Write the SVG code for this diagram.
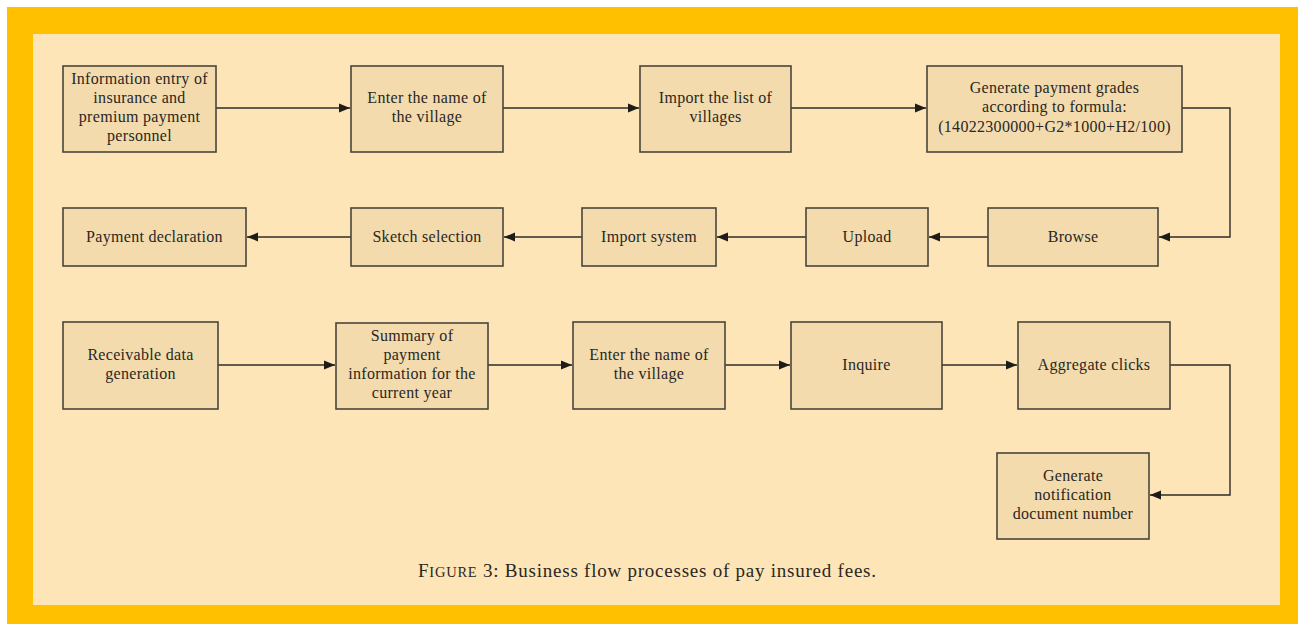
<svg xmlns="http://www.w3.org/2000/svg" width="1304" height="629" viewBox="0 0 1304 629">
<defs>
<style>
.box{fill:#F3DBAE;stroke:#4a463c;stroke-width:1.6}
.t{font-family:"Liberation Serif","DejaVu Serif",serif;font-size:16px;letter-spacing:0.3px;fill:#2a2722;text-anchor:middle}
.c{fill:none;stroke:#2e2b26;stroke-width:1.4}
.cap{font-family:"Liberation Serif","DejaVu Serif",serif;font-size:19px;fill:#2a2722}
</style>
<marker id="ah" viewBox="0 0 10 10" refX="10" refY="5" markerWidth="11" markerHeight="11" markerUnits="userSpaceOnUse" orient="auto">
<path d="M0,1 L10,5 L0,9 z" fill="#1e1c18"/>
</marker>
</defs>
<rect x="0" y="0" width="1304" height="629" fill="#ffffff"/>
<rect x="7" y="7" width="1291" height="617" fill="#FFC000"/>
<rect x="33" y="34" width="1247" height="571" fill="#FDE5B8"/>

<g id="connectors">
<path class="c" d="M216,108 H350" marker-end="url(#ah)"/>
<path class="c" d="M503,108 H639" marker-end="url(#ah)"/>
<path class="c" d="M791,108 H926" marker-end="url(#ah)"/>
<path class="c" d="M1182,108 H1230 V237 H1159" marker-end="url(#ah)"/>
<path class="c" d="M988,237 H929" marker-end="url(#ah)"/>
<path class="c" d="M806,237 H717" marker-end="url(#ah)"/>
<path class="c" d="M582,237 H504" marker-end="url(#ah)"/>
<path class="c" d="M351,237 H247" marker-end="url(#ah)"/>
<path class="c" d="M218,365 H335" marker-end="url(#ah)"/>
<path class="c" d="M488,365 H572" marker-end="url(#ah)"/>
<path class="c" d="M725,365 H790" marker-end="url(#ah)"/>
<path class="c" d="M942,365 H1017" marker-end="url(#ah)"/>
<path class="c" d="M1170,365 H1230 V495 H1150" marker-end="url(#ah)"/>
</g>

<g id="n1"><rect class="box" x="63" y="66" width="153" height="86"/>
<text class="t" x="139.5" y="84">Information entry of</text>
<text class="t" x="139.5" y="103">insurance and</text>
<text class="t" x="139.5" y="122">premium payment</text>
<text class="t" x="139.5" y="141">personnel</text></g>
<g id="n2"><rect class="box" x="351" y="66" width="152" height="86"/>
<text class="t" x="427" y="103">Enter the name of</text>
<text class="t" x="427" y="122">the village</text></g>
<g id="n3"><rect class="box" x="640" y="66" width="151" height="86"/>
<text class="t" x="715.5" y="103">Import the list of</text>
<text class="t" x="715.5" y="122">villages</text></g>
<g id="n4"><rect class="box" x="927" y="66" width="255" height="86"/>
<text class="t" x="1054.5" y="93">Generate payment grades</text>
<text class="t" x="1054.5" y="112">according to formula:</text>
<text class="t" x="1054.5" y="132">(14022300000+G2*1000+H2/100)</text></g>

<g id="n5"><rect class="box" x="988" y="208" width="170" height="58"/>
<text class="t" x="1073" y="242">Browse</text></g>
<g id="n6"><rect class="box" x="806" y="208" width="122" height="58"/>
<text class="t" x="867" y="242">Upload</text></g>
<g id="n7"><rect class="box" x="582" y="208" width="134" height="58"/>
<text class="t" x="649" y="242">Import system</text></g>
<g id="n8"><rect class="box" x="351" y="208" width="152" height="58"/>
<text class="t" x="427" y="242">Sketch selection</text></g>
<g id="n9"><rect class="box" x="63" y="208" width="183" height="58"/>
<text class="t" x="154.5" y="242">Payment declaration</text></g>

<g id="n10"><rect class="box" x="63" y="322" width="155" height="87"/>
<text class="t" x="140.5" y="360">Receivable data</text>
<text class="t" x="140.5" y="379">generation</text></g>
<g id="n11"><rect class="box" x="336" y="323" width="152" height="86"/>
<text class="t" x="412" y="341">Summary of</text>
<text class="t" x="412" y="360">payment</text>
<text class="t" x="412" y="379">information for the</text>
<text class="t" x="412" y="398">current year</text></g>
<g id="n12"><rect class="box" x="573" y="322" width="152" height="87"/>
<text class="t" x="649" y="360">Enter the name of</text>
<text class="t" x="649" y="379">the village</text></g>
<g id="n13"><rect class="box" x="791" y="322" width="151" height="87"/>
<text class="t" x="866.5" y="370">Inquire</text></g>
<g id="n14"><rect class="box" x="1018" y="322" width="152" height="87"/>
<text class="t" x="1094" y="370">Aggregate clicks</text></g>
<g id="n15"><rect class="box" x="997" y="453" width="152" height="86"/>
<text class="t" x="1073" y="481">Generate</text>
<text class="t" x="1073" y="500">notification</text>
<text class="t" x="1073" y="519">document number</text></g>

<text class="cap" x="418" y="577" textLength="458" lengthAdjust="spacing">F<tspan font-size="14.5">IGURE</tspan> 3: Business flow processes of pay insured fees.</text>
</svg>
